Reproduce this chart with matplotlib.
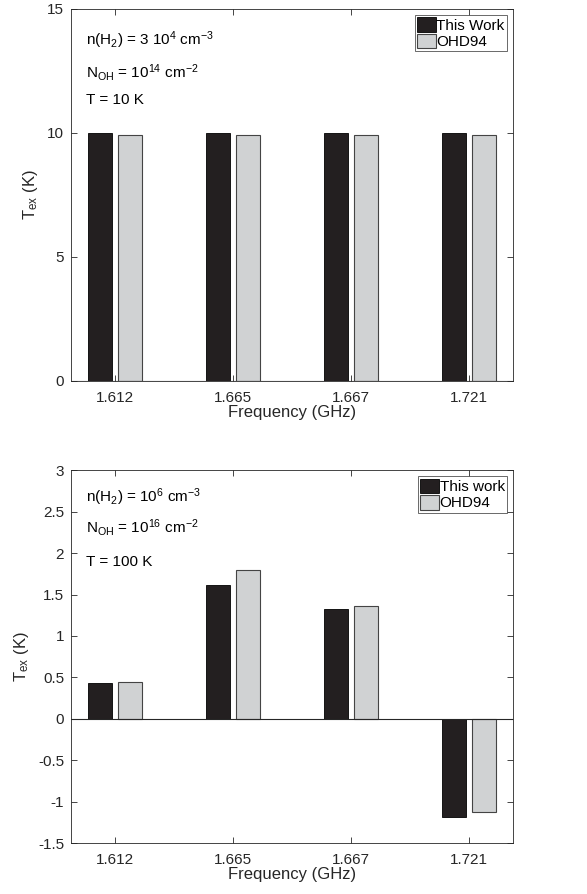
import matplotlib
matplotlib.use('Agg')
import matplotlib.pyplot as plt
from matplotlib.ticker import FuncFormatter
import numpy as np

plt.rcParams['font.family'] = ['Liberation Sans', 'DejaVu Sans']
plt.rcParams['mathtext.fontset'] = 'custom'
plt.rcParams['mathtext.rm'] = 'Liberation Sans'
plt.rcParams['mathtext.it'] = 'Liberation Sans'

freq_labels = ['1.612', '1.665', '1.667', '1.721']

# panel 1: n(H2)=3e4, N_OH=1e14, T=10 K
this_work_1 = [10.0, 10.0, 10.0, 10.0]
ohd94_1 = [9.93, 9.93, 9.93, 9.93]

# panel 2: n(H2)=1e6, N_OH=1e16, T=100 K
this_work_2 = [0.43, 1.62, 1.33, -1.18]
ohd94_2 = [0.44, 1.80, 1.36, -1.12]

dark = '#231f20'
light = '#d0d2d3'
axcol = '#262626'

fig = plt.figure(figsize=(5.87, 8.94), dpi=100)
ax1 = fig.add_axes([0.121, 0.574, 0.753, 0.416])
ax2 = fig.add_axes([0.121, 0.057, 0.753, 0.417])

x = np.arange(1, len(freq_labels) + 1)
w = 0.2
off = 0.127


def draw_panel(ax, a, b, lab_a, ylim, yticks, lines, ypos):
    ax.bar(x - off, a, w, color=dark, edgecolor='black', linewidth=0.6, label=lab_a, zorder=2)
    ax.bar(x + off, b, w, color=light, edgecolor='#444444', linewidth=0.8, label='OHD94', zorder=2)
    ax.axhline(0, color=axcol, linewidth=0.8, zorder=3)
    ax.set_xlim(0.625, 4.375)
    ax.set_ylim(*ylim)
    ax.set_xticks(x)
    ax.set_xticklabels(freq_labels)
    ax.set_yticks(yticks)
    ax.yaxis.set_major_formatter(FuncFormatter(lambda v, p: '%g' % v))
    ax.tick_params(direction='in', top=True, right=True, labelsize=11,
                   colors=axcol, length=4, width=0.6)
    ax.tick_params(axis='x', pad=7)
    ax.tick_params(axis='y', pad=5)
    for s in ax.spines.values():
        s.set_color(axcol)
        s.set_linewidth(0.6)
    ax.set_xlabel('Frequency (GHz)', fontsize=12, color=axcol, labelpad=0)
    ax.set_ylabel(r'T$_{\mathregular{ex}}$ (K)', fontsize=12, color=axcol, labelpad=5)
    for t, yy in zip(lines, ypos):
        ax.text(0.034, yy, t, transform=ax.transAxes, fontsize=11, color='black', va='center')
    leg = ax.legend(loc='upper right', fontsize=11, frameon=True, fancybox=False,
                    borderpad=0.15, handlelength=1.2, handleheight=1.1, handletextpad=0.05,
                    labelspacing=0.05, borderaxespad=0.4)
    leg.get_frame().set_edgecolor(axcol)
    leg.get_frame().set_linewidth(0.6)


draw_panel(ax1, this_work_1, ohd94_1, 'This Work', (0, 15), [0, 5, 10, 15],
           [r'n(H$_2$) = 3 10$^4$ cm$^{-3}$', r'N$_{\mathregular{OH}}$ = 10$^{14}$ cm$^{-2}$', 'T = 10 K'],
           [0.917, 0.828, 0.755])
draw_panel(ax2, this_work_2, ohd94_2, 'This work', (-1.5, 3), np.arange(-1.5, 3.01, 0.5),
           [r'n(H$_2$) = 10$^6$ cm$^{-3}$', r'N$_{\mathregular{OH}}$ = 10$^{16}$ cm$^{-2}$', 'T = 100 K'],
           [0.928, 0.847, 0.753])

fig.savefig('out.png', dpi=100)
